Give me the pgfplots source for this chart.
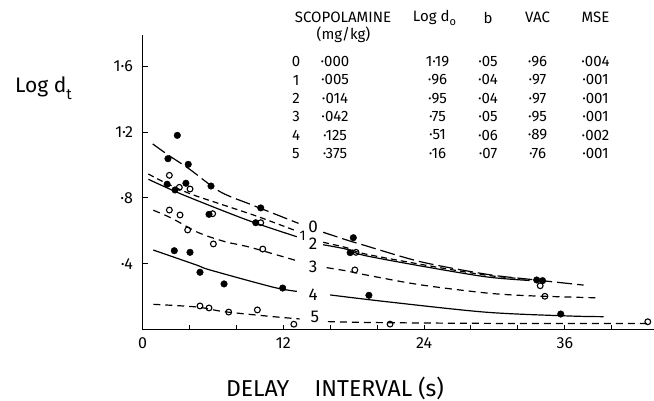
\documentclass[border=0pt]{standalone}
\usepackage{pgfplots}
\pgfplotsset{compat=1.18}
\usepackage{fontspec}
\setmainfont{Fira Sans}
\newcommand{\fs}[1]{\fontsize{#1}{#1}\selectfont}

\begin{document}
\begin{tikzpicture}
\begin{axis}[
  at={(0,0)}, anchor=south west,
  scale only axis, width=511.5bp, height=294.5bp,
  xmin=0, xmax=43.6, ymin=0, ymax=1.79,
  axis x line*=bottom, axis y line*=left,
  axis line style={-, line width=1.1bp},
  xtick={0,12,24,36}, xticklabels={0,12,24,36},
  minor xtick={4,8,16,20,28,32,40},
  ytick={0.4,0.8,1.2,1.6}, yticklabels={·4,·8,1·2,1·6},
  tick align=inside, major tick length=5bp, minor tick length=5bp,
  tick style={line width=1bp, black},
  ticklabel style={font=\fs{16bp}},
  xticklabel style={yshift=-5bp},
  yticklabel style={xshift=-6bp},
  clip=false,
]
% fitted curves (broken where the number labels sit)
\addplot[black, line width=1.2bp, dash pattern=on 15bp off 5bp, smooth] coordinates {(0.87,1.128) (2.2,1.06) (4,0.975) (6.6,0.838) (9.16,0.762) (11,0.71) (13.3,0.645)};
\addplot[black, line width=1.2bp, dash pattern=on 15bp off 5bp, smooth] coordinates {(15.4,0.591) (17.4,0.544) (18.8,0.514) (23.7,0.412) (29.3,0.336) (33,0.305) (37.6,0.27)};
\addplot[black, line width=1.2bp, dash pattern=on 6bp off 4bp, smooth] coordinates {(0.5,0.945) (2,0.89) (4.33,0.818) (9.45,0.696) (13.15,0.598)};
\addplot[black, line width=1.2bp, dash pattern=on 6bp off 4bp, smooth] coordinates {(15.4,0.53) (17.4,0.497) (18.8,0.462) (23.65,0.397) (29.3,0.33) (33,0.305)};
\addplot[black, line width=1.2bp, smooth] coordinates {(0.5,0.913) (3.48,0.818) (8.9,0.666) (13.15,0.564)};
\addplot[black, line width=1.2bp, smooth] coordinates {(15.4,0.515) (17.4,0.488) (18.8,0.452) (23.65,0.387) (29.3,0.32) (33,0.298)};
\addplot[black, line width=1.2bp, dash pattern=on 7bp off 5bp, smooth] coordinates {(0.92,0.725) (2.5,0.676) (4.76,0.589) (7.03,0.534) (9.16,0.50) (13.15,0.418)};
\addplot[black, line width=1.2bp, dash pattern=on 7bp off 5bp, smooth] coordinates {(15.7,0.376) (17.4,0.356) (19.1,0.331) (23.65,0.272) (29.3,0.222) (33,0.205) (39,0.192)};
\addplot[black, line width=1.2bp, smooth] coordinates {(0.92,0.483) (4.6,0.392) (5.75,0.362) (11.15,0.257) (13.15,0.232)};
\addplot[black, line width=1.2bp, smooth] coordinates {(16,0.21) (20.8,0.169) (29.3,0.105) (36.4,0.082) (39.3,0.078)};
\addplot[black, line width=1.2bp, dash pattern=on 7bp off 5bp, smooth] coordinates {(0.92,0.153) (4.6,0.137) (6.6,0.112) (8.3,0.098) (11.15,0.078) (13.4,0.064)};
\addplot[black, line width=1.2bp, dash pattern=on 7bp off 5bp, smooth] coordinates {(15.8,0.048) (20,0.042) (30,0.037) (43,0.036)};
% observed points
\addplot[only marks, mark=*, mark size=3.3bp, black] coordinates {(2.17,1.038) (2.97,1.18) (3.9,1.004) (5.84,0.872) (10.08,0.739) (17.97,0.558) (33.6,0.301)};
\addplot[only marks, mark=o, mark size=2.9bp, mark options={line width=1.1bp, fill=white}, black] coordinates {(2.29,0.937) (3.14,0.864) (4.05,0.854) (5.98,0.704) (10.08,0.649) (18.2,0.469) (33.9,0.266)};
\addplot[only marks, mark=*, mark size=3.3bp, black] coordinates {(2.1,0.883) (2.77,0.848) (3.7,0.889) (5.67,0.70) (9.65,0.649) (17.7,0.467) (34.1,0.297)};
\addplot[only marks, mark=o, mark size=2.9bp, mark options={line width=1.1bp, fill=white}, black] coordinates {(2.29,0.726) (3.2,0.696) (3.85,0.605) (6.04,0.52) (10.25,0.489) (18.1,0.362) (34.3,0.202)};
\addplot[only marks, mark=*, mark size=3.3bp, black] coordinates {(2.71,0.479) (4.05,0.469) (4.9,0.348) (6.95,0.277) (11.95,0.252) (19.3,0.208) (35.65,0.094)};
\addplot[only marks, mark=o, mark size=2.9bp, mark options={line width=1.1bp, fill=white}, black] coordinates {(4.9,0.143) (5.67,0.131) (7.35,0.106) (9.79,0.119) (12.9,0.032) (21.1,0.033) (43.07,0.047)};
% curve numbers
\node[font=\fs{17bp}] at (axis cs:14.55,0.625) {0};
\node[font=\fs{14bp}] at (axis cs:13.66,0.568) {1};
\node[font=\fs{17bp}] at (axis cs:14.55,0.524) {2};
\node[font=\fs{17bp}] at (axis cs:14.55,0.381) {3};
\node[font=\fs{17bp}] at (axis cs:14.55,0.214) {4};
\node[font=\fs{17bp}] at (axis cs:14.7,0.078) {5};
\end{axis}

% axis titles
\node[font=\fs{23bp}] at (192.5bp,-58.5bp) {DELAY\hspace{1.1em}INTERVAL (s)};
\node[font=\fs{21bp}] at (-99bp,241bp) {Log d\raisebox{-0.6ex}{\fs{15bp}t}};

% parameter table
\begin{scope}[every node/.style={font=\fs{15bp}, inner sep=0pt}]
\node at (200.5bp,312bp) {SCOPOLAMINE};
\node at (201bp,295bp) {(mg/kg)};
\node at (292bp,312bp) {Log d\raisebox{-0.5ex}{\fs{11bp}o}};
\node at (345.5bp,312bp) {b};
\node at (395bp,312bp) {VAC};
\node at (453bp,312bp) {MSE};
\foreach \y/\n/\d/\l/\b/\v/\m in {267.8/0/·000/1·19/·05/·96/·004, 249.5/1/·005/·96/·04/·97/·001, 231.2/2/·014/·95/·04/·97/·001, 212.8/3/·042/·75/·05/·95/·001, 194.5/4/·125/·51/·06/·89/·002, 176.2/5/·375/·16/·07/·76/·001}{
  \node at (153.5bp,\y bp) {\n};
  \node at (192.5bp,\y bp) {\d};
  \node at (295bp,\y bp) {\l};
  \node at (345.5bp,\y bp) {\b};
  \node at (395bp,\y bp) {\v};
  \node at (453bp,\y bp) {\m};
}
\end{scope}

\pgfresetboundingbox
\path[use as bounding box] (-142.5bp,-71.5bp) rectangle (511.5bp,329.5bp);
\end{tikzpicture}
\end{document}
